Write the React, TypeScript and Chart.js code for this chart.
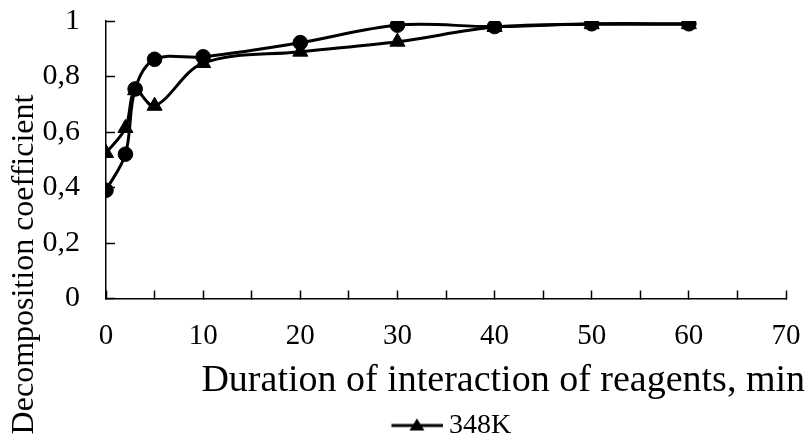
import React, { useEffect, useRef } from 'react';
import { Chart, registerables } from 'chart.js';

Chart.register(...registerables);

const durations = [0, 2, 3, 5, 10, 20, 30, 40, 50, 60];
const coefCircle = [0.39, 0.52, 0.755, 0.862, 0.871, 0.922, 0.985, 0.98, 0.99, 0.99];
const coef348K = [0.524, 0.614, 0.75, 0.694, 0.848, 0.889, 0.925, 0.978, 0.988, 0.988];
const xTickLabels = ['0', '10', '20', '30', '40', '50', '60', '70'];
const yTickLabels = ['0', '0,2', '0,4', '0,6', '0,8', '1'];
const legendLabel = '348K';
const xTitle = 'Duration of interaction of reagents, min';
const yTitle = 'Decomposition coefficient';

const FONT = "'Liberation Serif', 'Times New Roman', serif";

function makeLegendMarker(): HTMLCanvasElement {
  const c = document.createElement('canvas');
  c.width = 70;
  c.height = 18;
  const g = c.getContext('2d')!;
  g.strokeStyle = '#000';
  g.lineWidth = 3;
  g.beginPath();
  g.moveTo(18.5, 9);
  g.lineTo(70, 9);
  g.stroke();
  g.fillStyle = '#000';
  g.beginPath();
  g.moveTo(44, 2);
  g.lineTo(51.5, 14);
  g.lineTo(36.5, 14);
  g.closePath();
  g.fill();
  return c;
}

const titlesPlugin = {
  id: 'axisTitles',
  afterDraw(chart: any) {
    const { ctx } = chart;
    ctx.save();
    ctx.fillStyle = '#000';
    ctx.font = `38px ${FONT}`;
    ctx.textAlign = 'right';
    ctx.textBaseline = 'alphabetic';
    ctx.fillText(xTitle, 805, 391);
    ctx.translate(33, 264.5);
    ctx.rotate(-Math.PI / 2);
    ctx.font = `32px ${FONT}`;
    ctx.textAlign = 'center';
    ctx.fillText(yTitle, 0, 0);
    ctx.restore();
  },
};

const zeroPad = (s: any) => {
  s.paddingTop = 0;
  s.paddingBottom = 0;
  s.paddingLeft = 0;
  s.paddingRight = 0;
};

export default function App() {
  const ref = useRef<HTMLCanvasElement>(null);
  useEffect(() => {
    if (!ref.current) return;
    const marker = makeLegendMarker();
    const chart = new Chart(ref.current, {
      type: 'line',
      data: {
        datasets: [
          {
            label: 'circles',
            data: durations.map((d, i) => ({ x: d, y: coefCircle[i] })),
            borderColor: '#000',
            backgroundColor: '#000',
            borderWidth: 3,
            pointStyle: 'circle',
            pointRadius: 7.3,
            pointBorderWidth: 1,
            tension: 0.35,
          },
          {
            label: legendLabel,
            data: durations.map((d, i) => ({ x: d, y: coef348K[i] })),
            borderColor: '#000',
            backgroundColor: '#000',
            borderWidth: 3,
            pointStyle: 'triangle',
            pointRadius: 8.7,
            pointBorderWidth: 1,
            tension: 0.35,
          },
        ],
      },
      options: {
        animation: false,
        responsive: false,
        events: [],
        layout: { padding: { left: 0, right: 21, top: 21, bottom: -8.5 } },
        plugins: {
          tooltip: { enabled: false },
          legend: {
            display: true,
            position: 'bottom',
            fullSize: false,
            labels: {
              usePointStyle: true,
              pointStyleWidth: 54,
              padding: 10,
              color: '#000',
              font: { family: FONT, size: 28 },
              generateLabels: () => [
                {
                  text: legendLabel,
                  pointStyle: marker as any,
                  fillStyle: '#000',
                  strokeStyle: '#000',
                  lineWidth: 0,
                  hidden: false,
                  datasetIndex: 1,
                  fontColor: '#000',
                } as any,
              ],
            },
          },
        },
        scales: {
          x: {
            type: 'linear',
            min: 0,
            max: 70,
            afterFit: (s: any) => {
              s.height = 103;
              zeroPad(s);
            },
            border: { display: true, color: '#000', width: 1.5 },
            grid: {
              display: true,
              drawOnChartArea: false,
              drawTicks: true,
              tickLength: -8,
              color: '#000',
              tickWidth: 1.5,
            },
            ticks: {
              stepSize: 5,
              autoSkip: false,
              maxRotation: 0,
              padding: 28,
              color: '#000',
              font: { family: FONT, size: 29 },
              callback: (v: any) => (Number(v) % 10 === 0 ? xTickLabels[Number(v) / 10] : ''),
            },
          },
          y: {
            type: 'linear',
            min: 0,
            max: 1,
            afterFit: (s: any) => {
              s.width = 106;
              zeroPad(s);
            },
            border: { display: true, color: '#000', width: 1.5 },
            grid: {
              display: true,
              drawOnChartArea: false,
              drawTicks: true,
              tickLength: -9,
              color: '#000',
              tickWidth: 1.5,
            },
            ticks: {
              stepSize: 0.2,
              padding: 35,
              color: '#000',
              font: { family: FONT, size: 30 },
              callback: (_v: any, i: number) => yTickLabels[i],
            },
          },
        },
      },
      plugins: [titlesPlugin],
    });
    return () => chart.destroy();
  }, []);
  return (
    <div style={{ position: 'fixed', left: 0, top: 0, width: 807, height: 441, background: '#fff' }}>
      <canvas ref={ref} width={807} height={441} />
    </div>
  );
}
